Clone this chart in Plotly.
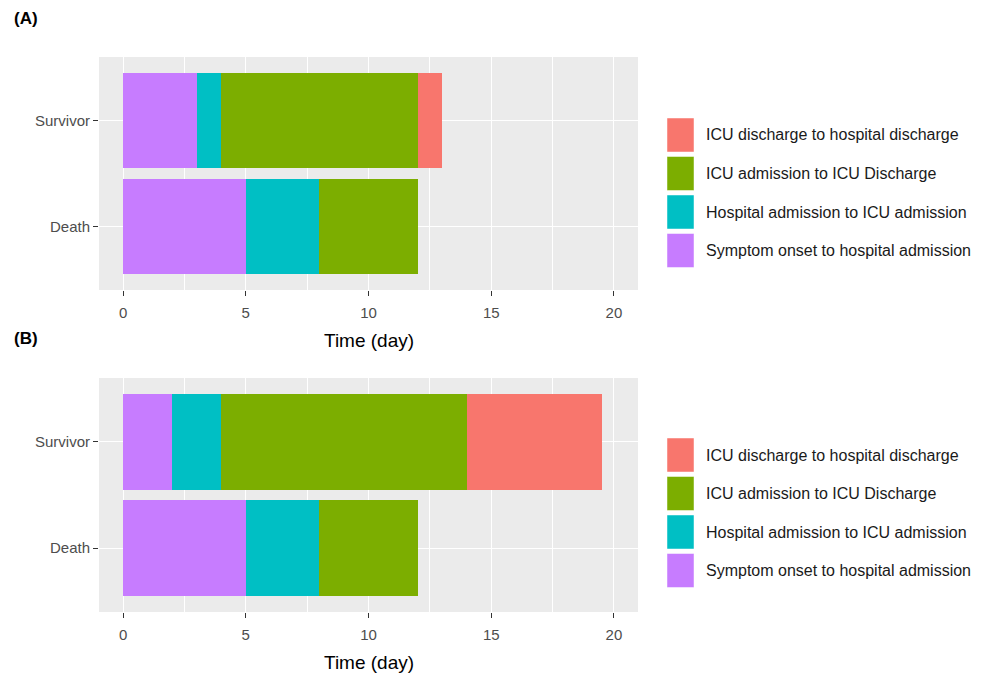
import plotly.graph_objects as go

# Durations (days) of each stage of the clinical course, by outcome group
groups = ["Death", "Survivor"]
stages = [
    "Symptom onset to hospital admission",
    "Hospital admission to ICU admission",
    "ICU admission to ICU Discharge",
    "ICU discharge to hospital discharge",
]
colors = ["#C77CFF", "#00BFC4", "#7CAE00", "#F8766D"]

# Panel A: values per stage for [Death, Survivor]
panel_a = {
    "Symptom onset to hospital admission": [5, 3],
    "Hospital admission to ICU admission": [3, 1],
    "ICU admission to ICU Discharge": [4, 8],
    "ICU discharge to hospital discharge": [0, 1],
}
# Panel B
panel_b = {
    "Symptom onset to hospital admission": [5, 2],
    "Hospital admission to ICU admission": [3, 2],
    "ICU admission to ICU Discharge": [4, 10],
    "ICU discharge to hospital discharge": [0, 5.5],
}

x_ticks = [0, 5, 10, 15, 20]
panel_labels = ["(A)", "(B)"]

W, H = 986, 676
FONT = "Liberation Sans, Arial, sans-serif"

fig = go.Figure()

# pixel layout of the two panels
x_left, x_right = 99, 638
panels = [(57, 290), (378, 612)]


def py(y):
    return 1 - y / H


for i, data in enumerate([panel_a, panel_b]):
    xa = "x" if i == 0 else "x2"
    ya = "y" if i == 0 else "y2"
    for stage, col in zip(stages, colors):
        fig.add_trace(go.Bar(
            y=groups, x=data[stage], orientation="h", name=stage,
            marker=dict(color=col, line=dict(width=0)),
            xaxis=xa, yaxis=ya, showlegend=False,
            hovertemplate="%{y}: %{x} days<extra>" + stage + "</extra>",
        ))

axis_common_x = dict(
    range=[-0.98, 20.98], tickvals=x_ticks, ticktext=[str(t) for t in x_ticks],
    showgrid=True, gridcolor="white", gridwidth=1.2, zeroline=False,
    ticks="outside", ticklen=5, tickcolor="#333333", tickwidth=1.1,
    ticklabelstandoff=4,
    tickfont=dict(family=FONT, size=15, color="#4D4D4D"),
    minor=dict(dtick=2.5, tick0=0, showgrid=True, gridcolor="white", gridwidth=0.6, ticks=""),
    showline=False, fixedrange=True,
)
axis_common_y = dict(
    type="category", categoryorder="array", categoryarray=groups,
    range=[-0.6, 1.6], showgrid=True, gridcolor="white", gridwidth=1.2,
    zeroline=False, ticks="outside", ticklen=5, tickcolor="#333333", tickwidth=1.1,
    tickfont=dict(family=FONT, size=15, color="#4D4D4D"), showline=False, fixedrange=True,
)

dom_x = [x_left / W, x_right / W]
layout = dict(
    width=W, height=H, margin=dict(l=0, r=0, t=0, b=0),
    paper_bgcolor="white", plot_bgcolor="#EBEBEB",
    barmode="stack", bargap=0.1, showlegend=False,
    font=dict(family=FONT),
    xaxis=dict(axis_common_x, domain=dom_x, anchor="y"),
    yaxis=dict(axis_common_y, domain=[py(panels[0][1]), py(panels[0][0])], anchor="x"),
    xaxis2=dict(axis_common_x, domain=dom_x, anchor="y2"),
    yaxis2=dict(axis_common_y, domain=[py(panels[1][1]), py(panels[1][0])], anchor="x2"),
)
fig.update_layout(**layout)

annotations = []
shapes = []
legend_tops = [118, 438]
label_y = [18, 338]
for i, (top, bottom) in enumerate(panels):
    # panel tag
    annotations.append(dict(
        text="<b>%s</b>" % panel_labels[i], x=12 / W, y=py(label_y[i]),
        xref="paper", yref="paper", xanchor="left", yanchor="middle",
        showarrow=False, font=dict(family=FONT, size=17, color="black"),
    ))
    # x axis title
    annotations.append(dict(
        text="Time (day)", x=(x_left + x_right) / 2 / W, y=py(bottom + 50),
        xref="paper", yref="paper", xanchor="center", yanchor="middle",
        showarrow=False, font=dict(family=FONT, size=19, color="black"),
    ))
    # legend (reverse stacking order, top to bottom)
    for k, (stage, col) in enumerate(zip(stages[::-1], colors[::-1])):
        y0 = legend_tops[i] + k * 38.5
        shapes.append(dict(
            type="rect", xref="paper", yref="paper",
            x0=667 / W, x1=694 / W, y0=py(y0 + 34), y1=py(y0),
            fillcolor=col, line=dict(width=0.8, color="rgba(255,255,255,0.6)"),
        ))
        annotations.append(dict(
            text=stage, x=704 / W, y=py(y0 + 17), xref="paper", yref="paper",
            xanchor="left", yanchor="middle", showarrow=False,
            font=dict(family=FONT, size=16, color="#1A1A1A"),
        ))

fig.update_layout(annotations=annotations, shapes=shapes)
fig.write_html("out.html")
